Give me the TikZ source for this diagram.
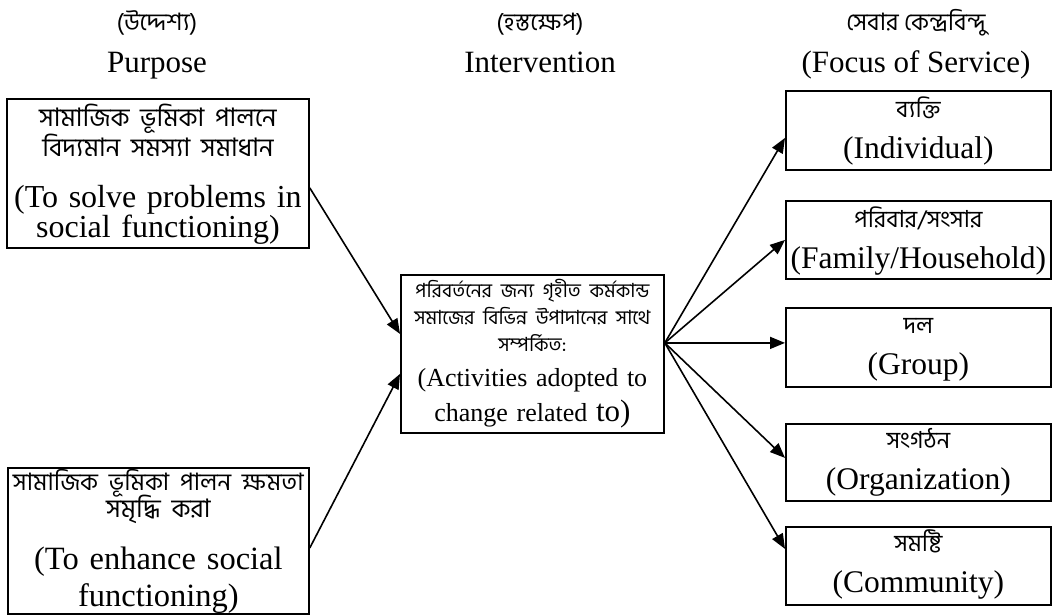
\documentclass[tikz,border=0pt]{standalone}
\usepackage{fontspec}
\setmainfont{Liberation Serif}
\newfontfamily\bn[Script=Bengali]{Hind Siliguri}
\usetikzlibrary{arrows.meta}
\newcommand{\bnhdr}{\bn\fontsize{24}{26}\selectfont}
\newcommand{\bnbig}{\bn\fontsize{25.5}{30}\selectfont}
\newcommand{\bnfit}{\bn\fontsize{24}{30}\selectfont}
\newcommand{\bnmid}{\bn\fontsize{19.5}{27}\selectfont}
\newcommand{\bnrt}{\bn\fontsize{23.5}{41}\selectfont}
\tikzset{
  box/.style={draw, line width=1.8pt, inner sep=0pt, align=center, anchor=north west},
  arr/.style={line width=1.6pt, -{Triangle[length=15pt,width=12pt]}},
  hdr/.style={inner sep=0pt, anchor=base},
  hdren/.style={hdr, font=\fontsize{31}{34}\selectfont},
  hdrbn/.style={hdr, font=\bnhdr},
  rbox/.style={box, text width=265pt, text depth=52pt, font=\fontsize{31.5}{41}\selectfont},
}
\begin{document}
\begin{tikzpicture}[x=1pt,y=-1pt]
\fill[white] (0,0) rectangle (1052,614);
\useasboundingbox (0,0) rectangle (1052,614);

% headers
\node[hdrbn] (h1b) at (157,30) {(উদ্দেশ্য)};
\node[hdren] (h1e) at (157,72) {Purpose};
\node[hdrbn] (h2b) at (540,30) {(হস্তক্ষেপ)};
\node[hdren] (h2e) at (540,72) {Intervention};
\node[hdrbn] (h3b) at (916,30) {সেবার কেন্দ্রবিন্দু};
\node[hdren] (h3e) at (916,72) {(Focus of Service)};

% left boxes
\node[box, text width=302pt, text height=28pt, text depth=121pt,
      font=\fontsize{32}{30}\selectfont] (p1) at (6,98)
  {\mbox{\bnbig সামাজিক ভূমিকা পালনে}\\\mbox{\bnbig বিদ্যমান সমস্যা সমাধান}\\[21pt]
   \mbox{(To solve problems in}\\\mbox{social functioning)}};
\node[box, text width=301pt, text height=23pt, text depth=123pt,
      font=\fontsize{32.5}{30}\selectfont] (p2) at (7,467)
  {\mbox{\bnfit সামাজিক ভূমিকা পালন ক্ষমতা}\\[-3pt]\mbox{\bnbig সমৃদ্ধি করা}\\[22pt]
   \mbox{(To enhance social}\\[7pt]functioning)};

% centre box
\node[box, text width=263pt, text height=23pt, text depth=135pt,
      font=\fontsize{26}{27}\selectfont] (iv) at (400,274)
  {\mbox{\bnmid পরিবর্তনের জন্য গৃহীত কর্মকান্ড}\\\mbox{\bnmid সমাজের বিভিন্ন উপাদানের সাথে}\\\mbox{\bnmid সম্পর্কিত:}\\[8pt]
   \mbox{(Activities adopted to}\\[7pt]\mbox{change related {\fontsize{31}{31}\selectfont to)}}};

% right boxes
\node[rbox, text height=27pt, text depth=52pt] (ind) at (785,90)
  {{\bnrt ব্যক্তি}\\(Individual)};
\node[rbox, text height=27pt, text depth=51pt] (fam) at (785,200)
  {{\bnrt পরিবার/সংসার}\\(Family/Household)};
\node[rbox, text height=26pt, text depth=53pt] (grp) at (785,307)
  {{\bnrt দল}\\(Group)};
\node[rbox, text height=25pt, text depth=52pt] (org) at (785,423)
  {{\bnrt সংগঠন}\\(Organization)};
\node[rbox, text height=25pt, text depth=53pt] (com) at (785,526)
  {{\bnrt সমষ্টি}\\(Community)};

% connectors
\draw[arr] ([yshift=-14.5pt]p1.east) -- ([yshift=20pt]iv.west);
\draw[arr] ([yshift=-7pt]p2.east) -- ([yshift=-20pt]iv.west);
\draw[arr] ([yshift=11pt]iv.east) -- ([yshift=-7.5pt]ind.west);
\draw[arr] ([yshift=11pt]iv.east) -- (fam.west);
\draw[arr] ([yshift=11pt]iv.east) -- ([yshift=4.5pt]grp.west);
\draw[arr] ([yshift=11pt]iv.east) -- ([yshift=4.5pt]org.west);
\draw[arr] ([yshift=11pt]iv.east) -- ([yshift=17pt]com.west);
\end{tikzpicture}
\end{document}
